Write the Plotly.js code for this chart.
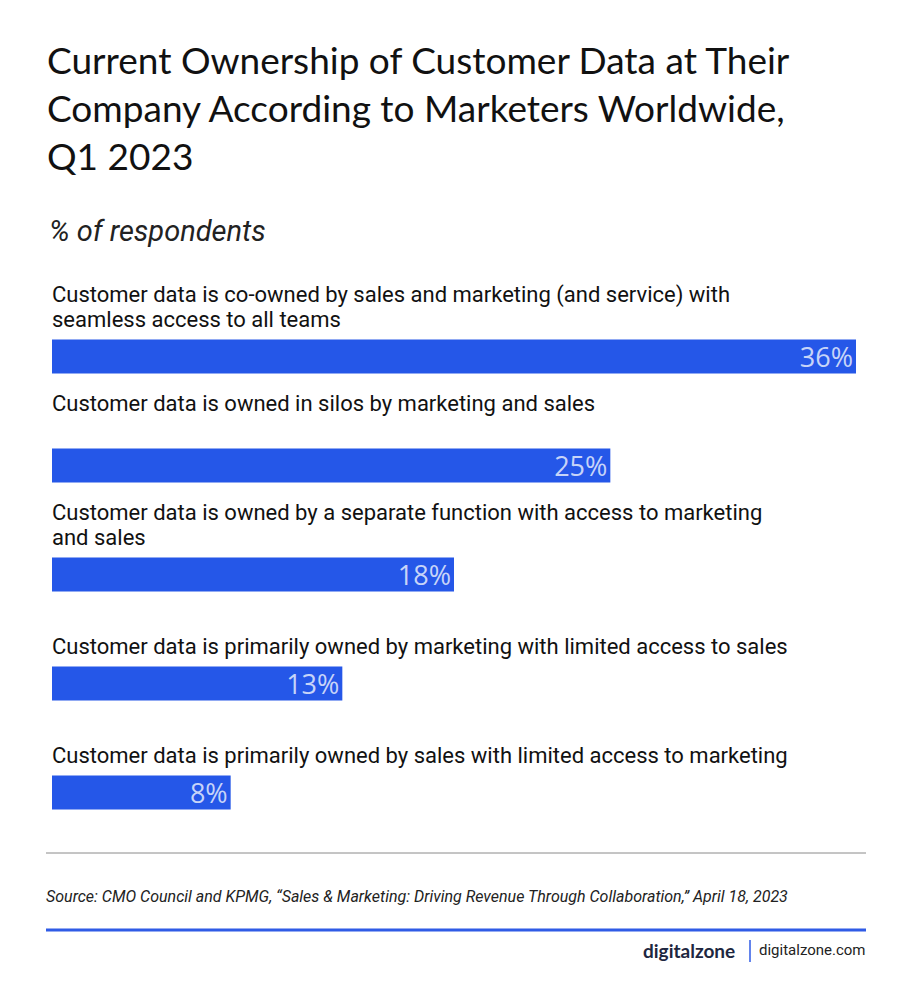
<!DOCTYPE html>
<html>
<head>
<meta charset="utf-8">
<script src="https://cdn.plot.ly/plotly-3.0.1.min.js"></script>
<style>html,body{margin:0;padding:0;background:#fff;}#chart{width:913px;height:1004px;}</style>
</head>
<body>
<div id="chart"></div>
<script>
const categories = [
  "Customer data is co-owned by sales and marketing (and service) with<br>seamless access to all teams",
  "Customer data is owned in silos by marketing and sales<br> ",
  "Customer data is owned by a separate function with access to marketing<br>and sales",
  "Customer data is primarily owned by marketing with limited access to sales",
  "Customer data is primarily owned by sales with limited access to marketing"
];
const values = [36, 25, 18, 13, 8];
const valueLabels = ["36%", "25%", "18%", "13%", "8%"];
const titleText = "Current Ownership of Customer Data at Their<br>Company According to Marketers Worldwide,<br>Q1 2023";
const subtitleText = "% of respondents";
const sourceText = "Source: CMO Council and KPMG, \u201cSales & Marketing: Driving Revenue Through Collaboration,\u201d April 18, 2023";

const W = 913, H = 1004, L = 52, R = 57, T = 302, B = 157;
const pw = W - L - R, ph = H - T - B;
const fx = px => (px - L) / pw;
const fy = py => (H - B - py) / ph;

const ids = categories.map((c, i) => "c" + i);

const trace = {
  type: "bar",
  orientation: "h",
  x: values,
  y: ids,
  width: 0.31,
  marker: {color: "#2557E8"},
  text: valueLabels,
  textposition: "inside",
  insidetextanchor: "end",
  constraintext: "none",
  textangle: 0,
  textfont: {family: "Open Sans, sans-serif", size: 27, color: "#c7d4f8"},
  hoverinfo: "skip",
  cliponaxis: false
};

const annotations = [];
categories.forEach((c, i) => {
  const lines = c.split("<br>");
  const n = lines.length;
  lines.forEach((ln, k) => {
    if (!ln.trim()) return;
    annotations.push({
      xref: "paper", yref: "y", x: fx(50), y: ids[i],
      xanchor: "left", yanchor: "middle", yshift: 37 + (n - 1 - k) * 25,
      align: "left", showarrow: false,
      text: ln,
      font: {family: "Roboto, sans-serif", size: 22, color: "#111"}
    });
  });
});

annotations.push({
  xref: "paper", yref: "paper", x: fx(47), y: fy(231),
  xanchor: "left", yanchor: "middle", showarrow: false,
  text: "<i>" + subtitleText + "</i>",
  font: {family: "Roboto, sans-serif", size: 29, color: "#222"}
});
annotations.push({
  xref: "paper", yref: "paper", x: fx(44), y: fy(896),
  xanchor: "left", yanchor: "middle", showarrow: false,
  text: "<i>" + sourceText + "</i>",
  font: {family: "Roboto, sans-serif", size: 16, color: "#222"}
});
annotations.push({
  xref: "paper", yref: "paper", x: fx(737), y: fy(950),
  xanchor: "right", yanchor: "middle", showarrow: false,
  text: "<b>digitalzone</b>",
  font: {family: "Lato, sans-serif", size: 19, color: "#1e2740"}
});
annotations.push({
  xref: "paper", yref: "paper", x: fx(868), y: fy(950),
  xanchor: "right", yanchor: "middle", showarrow: false,
  text: "digitalzone.com",
  font: {family: "Roboto, sans-serif", size: 15, color: "#222"}
});

const shapes = [
  {type: "line", xref: "paper", yref: "paper", x0: fx(46), x1: fx(866), y0: fy(853), y1: fy(853),
   line: {color: "#8a8a8a", width: 1}},
  {type: "line", xref: "paper", yref: "paper", x0: fx(46), x1: fx(866), y0: fy(930), y1: fy(930),
   line: {color: "#2F5BE6", width: 3}},
  {type: "line", xref: "paper", yref: "paper", x0: fx(750), x1: fx(750), y0: fy(940), y1: fy(962),
   line: {color: "#2F5BE6", width: 1.5}}
];

const layout = {
  width: W, height: H,
  margin: {l: L, r: R, t: T, b: B, pad: 0},
  paper_bgcolor: "#fff", plot_bgcolor: "#fff",
  showlegend: false,
  title: {
    text: titleText,
    xref: "container", yref: "container",
    x: 47 / W, xanchor: "left",
    y: 1 - 74 / H, yanchor: "top",
    font: {family: "Lato, sans-serif", size: 37, color: "#111"}
  },
  xaxis: {range: [0, 36], visible: false, fixedrange: true},
  yaxis: {type: "category", autorange: "reversed", visible: false, fixedrange: true},
  annotations: annotations,
  shapes: shapes
};

Plotly.newPlot("chart", [trace], layout, {displayModeBar: false, staticPlot: true});
</script>
</body>
</html>
